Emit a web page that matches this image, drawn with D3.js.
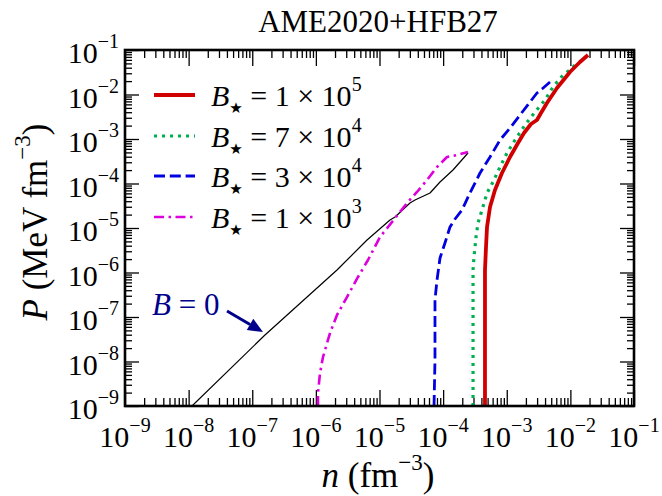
<!DOCTYPE html>
<html>
<head>
<meta charset="utf-8">
<script src="https://cdn.jsdelivr.net/npm/d3@7"></script>
<style>
  body { margin: 0; background: #fff; }
  text { font-family: "Liberation Serif", "Times New Roman", serif; fill: #000; }
</style>
</head>
<body>
<svg id="chart" width="662" height="496"></svg>
<script>
// Equation-of-state curves, stored as [log10 n (fm^-3), log10 P (MeV fm^-3)]
const curveB0 = [
  [-7.947, -9.000], [-6.800, -7.404], [-5.668, -5.944], [-5.196, -5.270],
  [-4.835, -4.820], [-4.756, -4.753], [-4.521, -4.438], [-4.442, -4.371],
  [-4.206, -4.213], [-4.049, -3.966], [-3.845, -3.697], [-3.609, -3.315]
];
const curveB1e3 = [
  [-5.967, -9.000], [-5.967, -8.708], [-5.935, -8.258], [-5.888, -7.899],
  [-5.778, -7.360], [-5.668, -6.955], [-5.511, -6.551], [-5.338, -6.101],
  [-5.181, -5.719], [-4.992, -5.202], [-4.866, -4.978], [-4.678, -4.640],
  [-4.568, -4.438], [-4.411, -4.191], [-4.253, -3.921], [-4.096, -3.629],
  [-3.939, -3.404], [-3.782, -3.360], [-3.609, -3.292]
];
const curveB3e4 = [
  [-4.143, -9.000], [-4.128, -7.966], [-4.128, -7.225], [-4.128, -6.618],
  [-4.096, -6.169], [-4.049, -5.674], [-3.971, -5.337], [-3.892, -4.978],
  [-3.813, -4.798], [-3.703, -4.596], [-3.578, -4.213], [-3.420, -3.764],
  [-3.263, -3.404], [-3.106, -3.022], [-2.949, -2.753], [-2.792, -2.461],
  [-2.635, -2.169], [-2.525, -1.966], [-2.446, -1.876], [-2.320, -1.719]
];
const curveB7e4 = [
  [-3.530, -9.000], [-3.530, -5.944], [-3.515, -5.652], [-3.483, -5.202],
  [-3.452, -4.888], [-3.389, -4.596], [-3.310, -4.213], [-3.216, -3.966],
  [-3.106, -3.629], [-2.996, -3.315], [-2.870, -3.022], [-2.713, -2.685],
  [-2.556, -2.393], [-2.399, -2.124], [-2.273, -1.831], [-2.116, -1.562],
  [-2.006, -1.449], [-1.927, -1.337]
];
const curveB1e5 = [
  [-3.342, -9.000], [-3.342, -5.944], [-3.326, -5.427], [-3.310, -4.978],
  [-3.263, -4.528], [-3.185, -4.146], [-3.075, -3.764], [-2.949, -3.404],
  [-2.823, -3.090], [-2.729, -2.865], [-2.619, -2.663], [-2.525, -2.573],
  [-2.462, -2.416], [-2.368, -2.191], [-2.210, -1.854], [-2.006, -1.494],
  [-1.849, -1.270], [-1.723, -1.112]
];

// Legend text: B* = mantissa x 10^exponent
const legendMantissa = ["1", "7", "3", "1"];
const legendExponent = ["5", "4", "4", "3"];

// Decade tick exponents shared by both axes
const tickExponents = [-9, -8, -7, -6, -5, -4, -3, -2, -1];

// "B = 0" annotation: label anchor and arrow tail/tip in log10 data units
const zeroLabelAt = [-8.576, -6.955];
const arrowTail = [-7.397, -6.865];
const arrowTip = [-6.831, -7.337];

const styles = [
  { data: curveB1e5, color: "#d10000", width: 3.8, dash: null },
  { data: curveB7e4, color: "#00b050", width: 3.2, dash: "3 5" },
  { data: curveB3e4, color: "#0000e0", width: 2.8, dash: "11 4.8" },
  { data: curveB1e3, color: "#dd00dd", width: 2.6, dash: "10 4.5 2.5 4.5" }
];

const fontMain = 30, fontSup = 20, supShift = 15;
const fontLabel = 35, fontLabelSup = 23, labelSupShift = 17;

const svg = d3.select("#chart");
const plotLeft = 125, plotRight = 634, plotTop = 50, plotBottom = 406;

const x = d3.scaleLog().domain([1e-9, 1e-1]).range([plotLeft, plotRight]);
const y = d3.scaleLog().domain([1e-9, 1e-1]).range([plotBottom, plotTop]);

const majors = tickExponents.map(e => Math.pow(10, e));
const minors = [];
tickExponents.slice(0, -1).forEach(e => {
  for (let k = 2; k <= 9; k++) minors.push(k * Math.pow(10, e));
});

svg.append("defs").append("clipPath").attr("id", "plotClip")
  .append("rect").attr("x", plotLeft).attr("y", plotTop)
  .attr("width", plotRight - plotLeft).attr("height", plotBottom - plotTop);

// Ticks point inward on all four sides
function tickLayer(axis, tx, ty, values, size) {
  const g = svg.append("g").attr("transform", `translate(${tx},${ty})`)
    .call(axis.tickValues(values).tickSize(size).tickFormat(""));
  g.select(".domain").remove();
  g.selectAll(".tick line").attr("stroke", "#000").attr("stroke-width", 1.3);
}
tickLayer(d3.axisBottom(x), 0, plotBottom, majors, -16);
tickLayer(d3.axisBottom(x), 0, plotBottom, minors, -8);
tickLayer(d3.axisTop(x), 0, plotTop, majors, -16);
tickLayer(d3.axisTop(x), 0, plotTop, minors, -8);
tickLayer(d3.axisLeft(y), plotLeft, 0, majors, -14);
tickLayer(d3.axisLeft(y), plotLeft, 0, minors, -7);
tickLayer(d3.axisRight(y), plotRight, 0, majors, -14);
tickLayer(d3.axisRight(y), plotRight, 0, minors, -7);

// Curves
const line = d3.line()
  .x(d => x(Math.pow(10, d[0])))
  .y(d => y(Math.pow(10, d[1])));

const plot = svg.append("g").attr("clip-path", "url(#plotClip)");

plot.append("path").datum(curveB0)
  .attr("d", line).attr("fill", "none")
  .attr("stroke", "#000").attr("stroke-width", 1.2)
  .attr("stroke-linejoin", "round");

styles.slice().reverse().forEach(s => {
  plot.append("path").datum(s.data)
    .attr("d", line).attr("fill", "none")
    .attr("stroke", s.color).attr("stroke-width", s.width)
    .attr("stroke-dasharray", s.dash)
    .attr("stroke-linejoin", "round");
});

// Frame
svg.append("rect").attr("x", plotLeft).attr("y", plotTop)
  .attr("width", plotRight - plotLeft).attr("height", plotBottom - plotTop)
  .attr("fill", "none").attr("stroke", "#000").attr("stroke-width", 2.6);

// Tick labels of the form 10^e
function powerLabel(sel, e) {
  sel.append("tspan").text("10");
  sel.append("tspan").attr("dy", -supShift).attr("font-size", fontSup).text("\u2212" + Math.abs(e));
}
tickExponents.forEach(e => {
  svg.append("text").attr("x", x(Math.pow(10, e))).attr("y", plotBottom + 41)
    .attr("text-anchor", "middle").attr("font-size", fontMain)
    .call(powerLabel, e);
  svg.append("text").attr("x", plotLeft - 6).attr("y", y(Math.pow(10, e)) + 13)
    .attr("text-anchor", "end").attr("font-size", fontMain)
    .call(powerLabel, e);
});

// Title
svg.append("text").attr("x", 378).attr("y", 32)
  .attr("text-anchor", "middle").attr("font-size", 31)
  .text("AME2020+HFB27");

// Axis titles
const xt = svg.append("text").attr("x", 378).attr("y", 487)
  .attr("text-anchor", "middle").attr("font-size", fontLabel);
xt.append("tspan").attr("font-style", "italic").text("n");
xt.append("tspan").text(" (fm");
xt.append("tspan").attr("dy", -labelSupShift).attr("font-size", fontLabelSup).text("\u22123");
xt.append("tspan").attr("dy", labelSupShift).text(")");

const yt = svg.append("text").attr("transform", "translate(47,222) rotate(-90)")
  .attr("text-anchor", "middle").attr("font-size", fontLabel);
yt.append("tspan").attr("font-style", "italic").text("P");
yt.append("tspan").text(" (MeV fm");
yt.append("tspan").attr("dy", -labelSupShift).attr("font-size", fontLabelSup).text("\u22123");
yt.append("tspan").attr("dy", labelSupShift).text(")");

// Legend
const legendY = [95, 136, 176, 217];
styles.forEach((s, i) => {
  const ly = legendY[i];
  svg.append("line").attr("x1", 154).attr("x2", 195).attr("y1", ly).attr("y2", ly)
    .attr("stroke", s.color).attr("stroke-width", s.width)
    .attr("stroke-dasharray", s.dash);
  const t = svg.append("text").attr("x", 211).attr("y", ly + 11).attr("font-size", fontMain);
  t.append("tspan").attr("font-style", "italic").text("B");
  t.append("tspan").attr("dy", 7).attr("font-size", 15)
    .style("font-family", "DejaVu Sans").text("\u2605");
  t.append("tspan").attr("dy", -7).text(" = " + legendMantissa[i] + " \u00d7 10");
  t.append("tspan").attr("dy", -supShift).attr("font-size", fontSup).text(legendExponent[i]);
});

// "B = 0" annotation with arrow
const navy = "#00008b";
const zt = svg.append("text")
  .attr("x", x(Math.pow(10, zeroLabelAt[0]))).attr("y", y(Math.pow(10, zeroLabelAt[1])))
  .attr("font-size", 31).style("fill", navy);
zt.append("tspan").attr("font-style", "italic").text("B");
zt.append("tspan").text(" = 0");

const tx0 = x(Math.pow(10, arrowTail[0])), ty0 = y(Math.pow(10, arrowTail[1]));
const tx1 = x(Math.pow(10, arrowTip[0])), ty1 = y(Math.pow(10, arrowTip[1]));
const ang = Math.atan2(ty1 - ty0, tx1 - tx0);
const headLen = 15, headHalf = 6.5;
const bx = tx1 - headLen * Math.cos(ang), by = ty1 - headLen * Math.sin(ang);
svg.append("line").attr("x1", tx0).attr("y1", ty0).attr("x2", bx).attr("y2", by)
  .attr("stroke", navy).attr("stroke-width", 3);
svg.append("path")
  .attr("d", d3.line()([
    [tx1, ty1],
    [bx + headHalf * Math.sin(ang), by - headHalf * Math.cos(ang)],
    [bx - headHalf * Math.sin(ang), by + headHalf * Math.cos(ang)]
  ]) + "Z")
  .attr("fill", navy);
</script>
</body>
</html>
